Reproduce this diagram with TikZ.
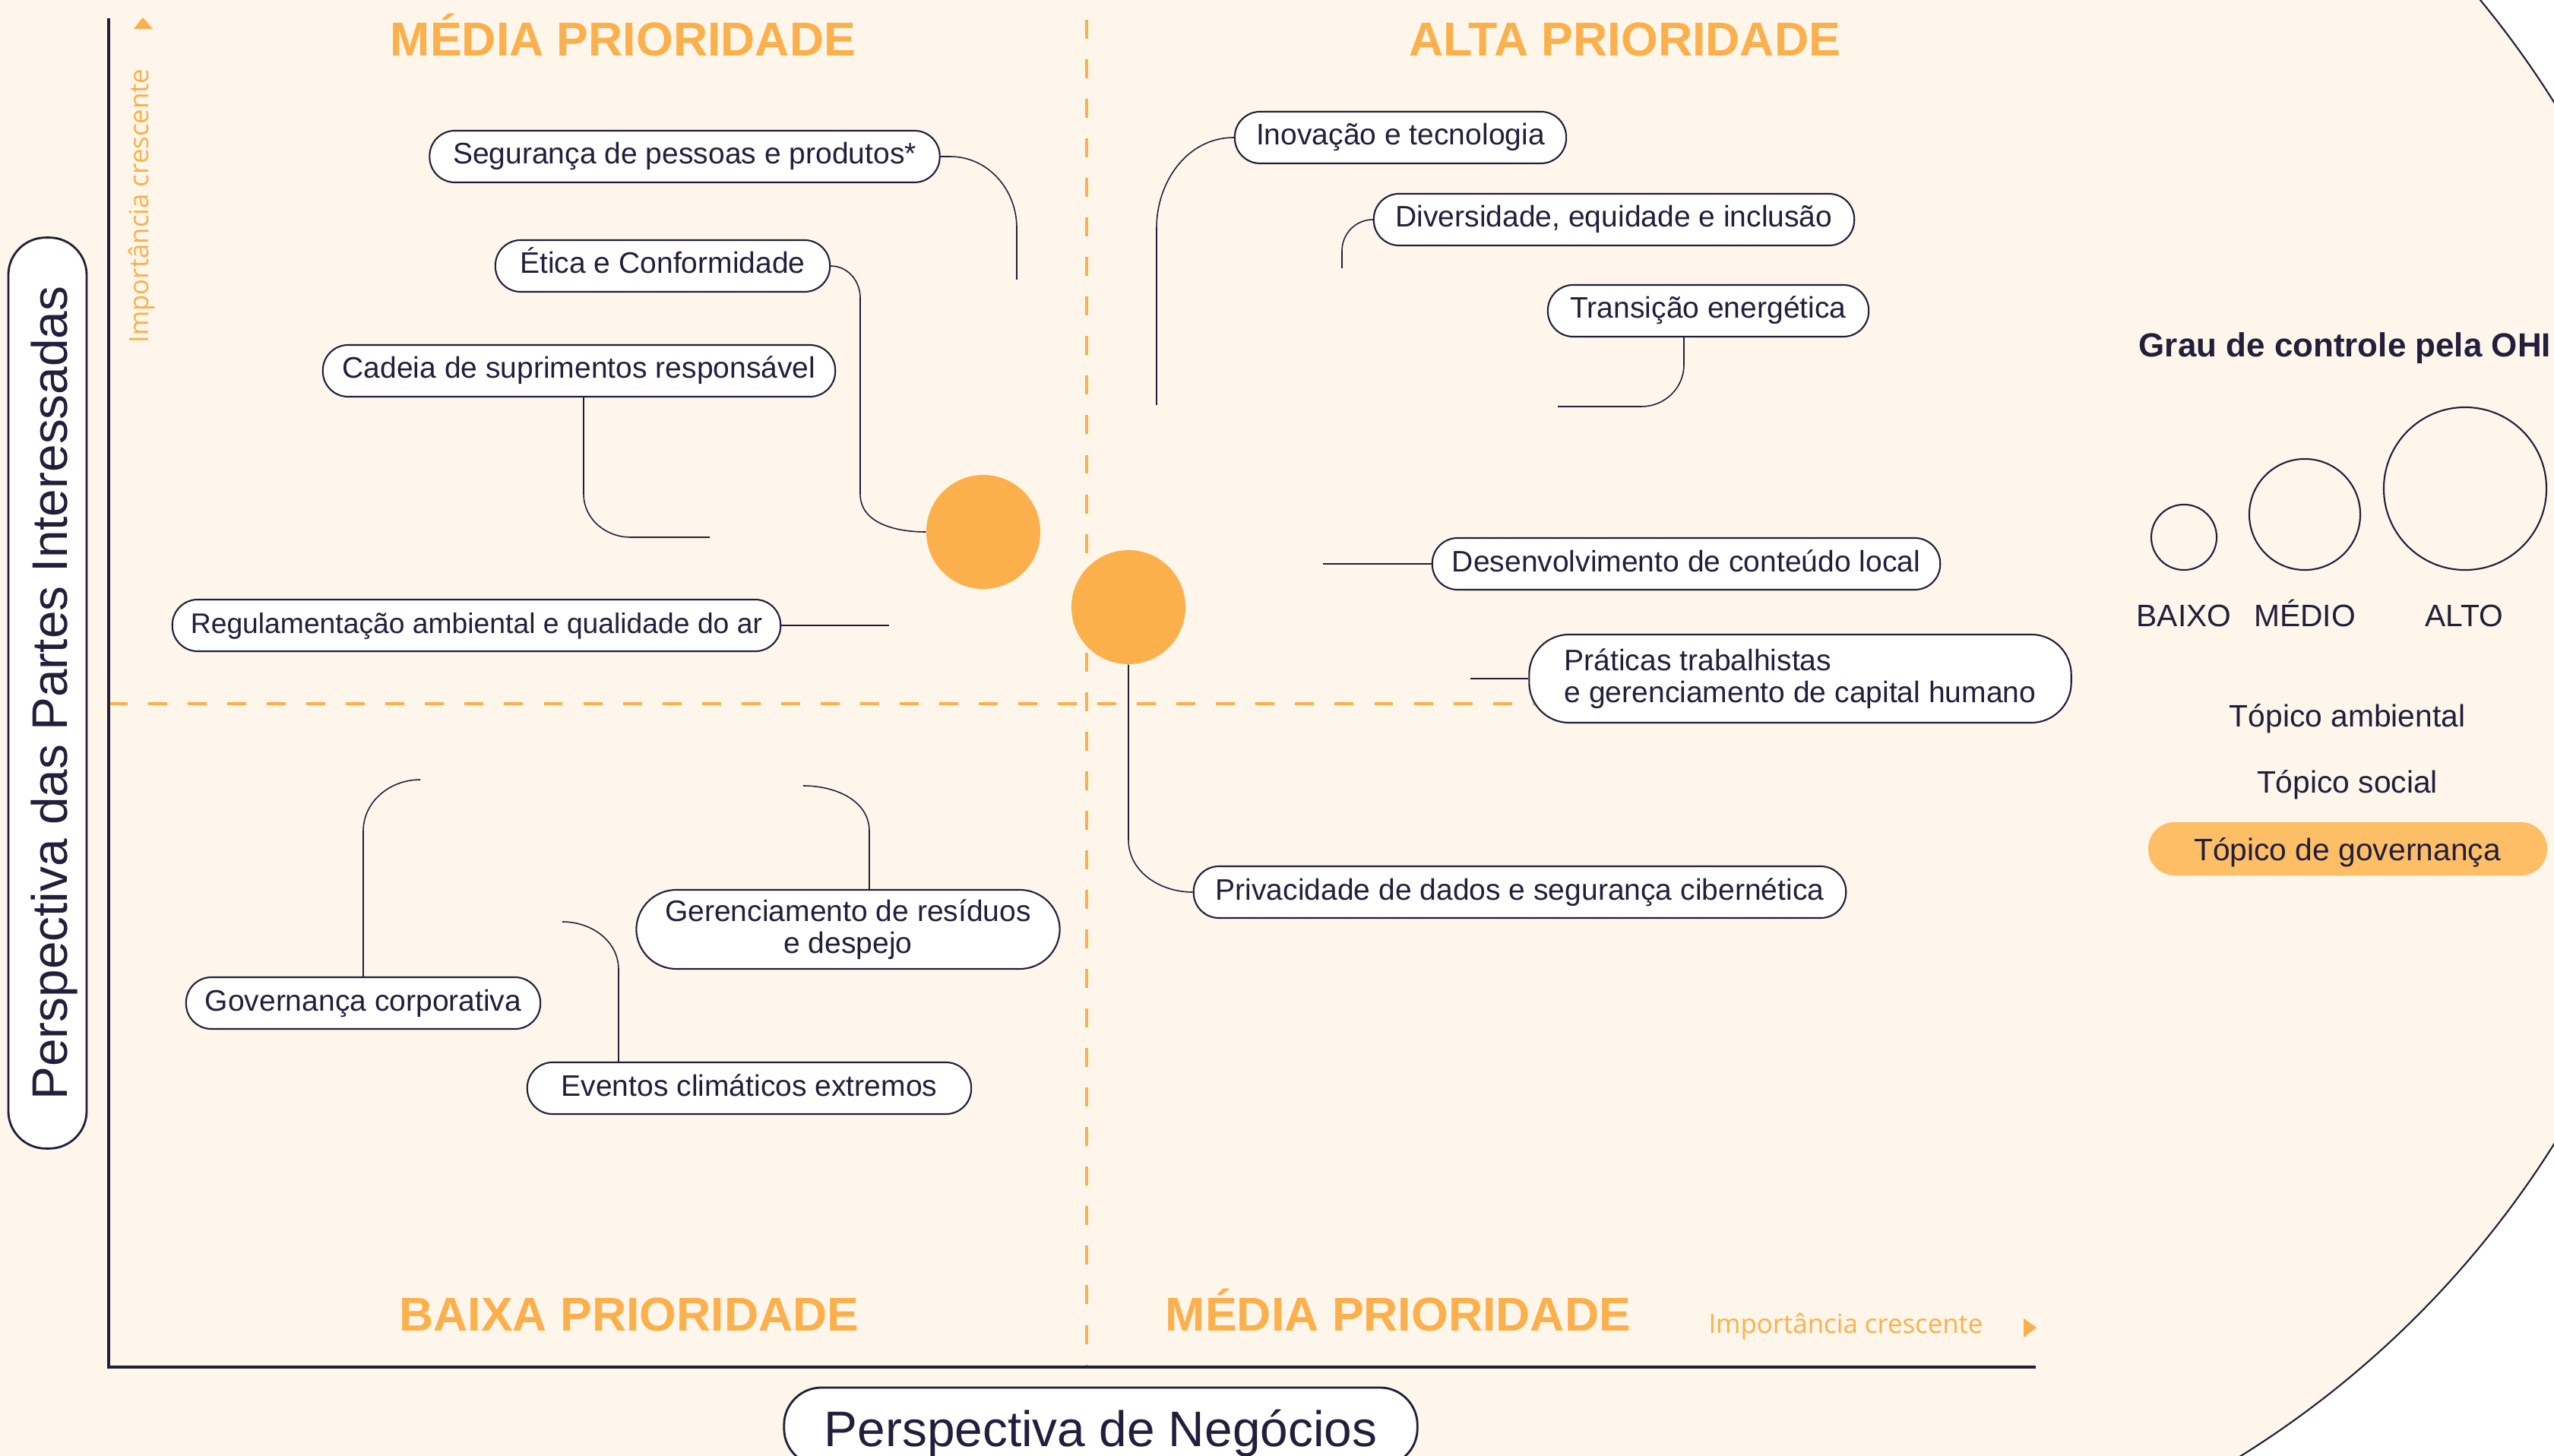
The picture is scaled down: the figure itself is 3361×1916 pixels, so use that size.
\documentclass[tikz,border=0pt]{standalone}
\usepackage{xcolor}
\usepackage{fontspec}
\setmainfont{Liberation Sans}
\newfontfamily\importfont{Open Sans}

\definecolor{creme}{HTML}{FEF6EA}
\definecolor{marinho}{HTML}{211F3C}
\definecolor{laranja}{HTML}{FBB04C}
\definecolor{laranjaclaro}{HTML}{FDBE66}

\tikzset{
  caixa/.style={draw=marinho, fill=white, line width=0.6pt, rounded corners=9.5pt,
    text=marinho, font=\fontsize{11.1}{11.8}\selectfont, minimum height=0.68cm,
    inner sep=0pt, align=center},
  topico/.style={caixa, text height=0.28cm, text depth=0.08cm},
  topicoduplo/.style={caixa, rounded corners=15pt},
  ligacao/.style={draw=marinho, line width=0.45pt},
  prioridade/.style={text=laranja, font=\fontsize{17.8}{20}\selectfont\bfseries, anchor=base},
  bolha/.style={circle, fill=laranja, minimum size=1.5cm, inner sep=0pt},
  legenda/.style={circle, draw=marinho, line width=0.6pt, inner sep=0pt},
  legtexto/.style={text=marinho, font=\fontsize{11.6}{13}\selectfont, anchor=base},
  eixo/.style={draw=marinho, line width=0.9pt},
  grade/.style={draw=laranja, line width=1.4pt, dash pattern=on 7.1pt off 7.7pt},
  titulo/.style={draw=marinho, fill=white, line width=0.8pt, rounded corners=14pt,
    text=marinho, font=\fontsize{18.7}{20}\selectfont, minimum height=1.03cm, inner sep=0pt,
    text height=0.6cm, text depth=0.08cm},
  crescente/.style={text=laranja, font=\importfont\fontsize{9.9}{11}\selectfont},
}

\begin{document}
\begin{tikzpicture}[x=0.01cm, y=0.01cm]
  \useasboundingbox (0,0) rectangle (3361,-1916);
  \clip (0,0) rectangle (3361,-1916);

  % fundo
  \fill[white] (0,0) rectangle (3361,-1916);
  \fill[creme] (0,0) rectangle (2268,-1916);
  \fill[creme] (2268,-820) circle (1290);
  \begin{scope}
    \clip (2268,0) rectangle (3361,-1916);
    \draw[marinho, line width=0.6pt] (2268,-820) circle (1290);
  \end{scope}

  % quadrantes
  \draw[grade] (1430,-26) -- (1430,-1799);
  \draw[grade] (143,-926) -- (2025,-926);
  \draw[eixo] (143,-24) -- (143,-1799) -- (2679,-1799);
  \fill[laranja] (188,-23) -- (201,-38) -- (176,-38) -- cycle;
  \fill[laranja] (2663,-1735) -- (2680,-1747) -- (2663,-1760) -- cycle;

  \node[prioridade] (mediasup) at (820,-74) {MÉDIA PRIORIDADE};
  \node[prioridade] (alta) at (2138,-74) {ALTA PRIORIDADE};
  \node[prioridade] (baixa) at (828,-1751) {BAIXA PRIORIDADE};
  \node[prioridade] (mediainf) at (1840,-1751) {MÉDIA PRIORIDADE};

  \node[crescente, rotate=90] (cresceY) at (186,-271) {Importância crescente};
  \node[crescente] (cresceX) at (2429,-1745) {Importância crescente};

  % eixos
  \node[titulo, rotate=90, minimum width=11.98cm] (partes) at (62.5,-912) {Perspectiva das Partes Interessadas};
  \node[titulo, minimum width=8.33cm] (negocios) at (1448.5,-1877.5) {Perspectiva de Negócios};

  % temas de governança
  \node[bolha] (gov1) at (1294,-700) {};
  \node[bolha] (gov2) at (1485,-799) {};

  % tópicos
  \node[topico, minimum width=6.71cm] (seguranca) at (901,-206) {Segurança de pessoas e produtos*};
  \node[topico, minimum width=4.40cm] (etica) at (872,-350) {Ética e Conformidade};
  \node[topico, minimum width=6.74cm] (cadeia) at (762,-488) {Cadeia de suprimentos responsável};
  \node[topico, minimum width=8.00cm, font=\fontsize{10.6}{11.8}\selectfont] (regulamentacao) at (627,-823) {Regulamentação ambiental e qualidade do ar};
  \node[topico, minimum width=4.36cm] (inovacao) at (1843,-181) {Inovação e tecnologia};
  \node[topico, minimum width=6.32cm] (diversidade) at (2124,-289) {Diversidade, equidade e inclusão};
  \node[topico, minimum width=4.22cm] (transicao) at (2248,-409) {Transição energética};
  \node[topico, minimum width=6.68cm] (conteudo) at (2219,-742) {Desenvolvimento de conteúdo local};
  \node[topicoduplo, minimum width=7.13cm, minimum height=1.16cm, align=left]
    (praticas) at (2369,-893) {Práticas trabalhistas\\e gerenciamento de capital humano};
  \node[topico, minimum width=8.58cm] (privacidade) at (2000,-1174) {Privacidade de dados e segurança cibernética};
  \node[topicoduplo, minimum width=5.57cm, minimum height=1.04cm] (residuos) at (1116,-1223) {Gerenciamento de resíduos\\e despejo};
  \node[topico, minimum width=4.66cm] (governanca) at (478,-1320) {Governança corporativa};
  \node[topico, minimum width=5.84cm] (eventos) at (986,-1432) {Eventos climáticos extremos};

  % ligações
  \draw[ligacao] (seguranca.east) -- (1250,-206) to[out=0,in=90] (1338,-300) -- (1338,-368);
  \draw[ligacao] (etica.east) to[out=0,in=90] (1132,-392) -- (1132,-650) to[out=-90,in=180] (gov1.west);
  \draw[ligacao] (cadeia.south -| 768,0) -- (768,-650) to[out=-90,in=180] (830,-707) -- (934,-707);
  \draw[ligacao] (regulamentacao.east) -- (1170,-823);
  \draw[ligacao] (inovacao.west) to[out=180,in=90] (1522,-300) -- (1522,-533);
  \draw[ligacao] (diversidade.west) to[out=180,in=90] (1766,-330) -- (1766,-353);
  \draw[ligacao] (transicao.south -| 2216,0) -- (2216,-480) to[out=-90,in=0] (2160,-535) -- (2050,-535);
  \draw[ligacao] (conteudo.west) -- (1741,-742);
  \draw[ligacao] (praticas.west) -- (1935,-893);
  \draw[ligacao] (gov2.south) -- (1485,-1105) to[out=-90,in=180] (privacidade.west);
  \draw[ligacao] (residuos.north -| 1144,0) -- (1144,-1094) to[out=90,in=0] (1057,-1034);
  \draw[ligacao] (governanca.north) -- (478,-1094) to[out=90,in=180] (553,-1026);
  \draw[ligacao] (eventos.north -| 814,0) -- (814,-1276) to[out=90,in=0] (740,-1213);

  % legenda
  \node[anchor=base west, inner sep=0pt, text=marinho, font=\fontsize{12.5}{14}\selectfont\bfseries] (grau) at (2814,-470) {Grau de controle pela OHI};
  \node[legenda, minimum size=0.86cm] (cbaixo) at (2874,-707) {};
  \node[legenda, minimum size=1.46cm] (cmedio) at (3033,-677) {};
  \node[legenda, minimum size=2.14cm] (calto) at (3244,-643) {};
  \node[legtexto] (lbaixo) at (2874,-825) {BAIXO};
  \node[legtexto] (lmedio) at (3033,-825) {MÉDIO};
  \node[legtexto] (lalto) at (3243,-825) {ALTO};

  \node[legtexto] (ambiental) at (3089,-956) {Tópico ambiental};
  \node[legtexto] (social) at (3089,-1043) {Tópico social};
  \fill[laranjaclaro, rounded corners=9.8pt] (2827,-1082) rectangle (3352,-1152);
  \node[legtexto] (governancaleg) at (3089,-1132) {Tópico de governança};
\end{tikzpicture}
\end{document}
